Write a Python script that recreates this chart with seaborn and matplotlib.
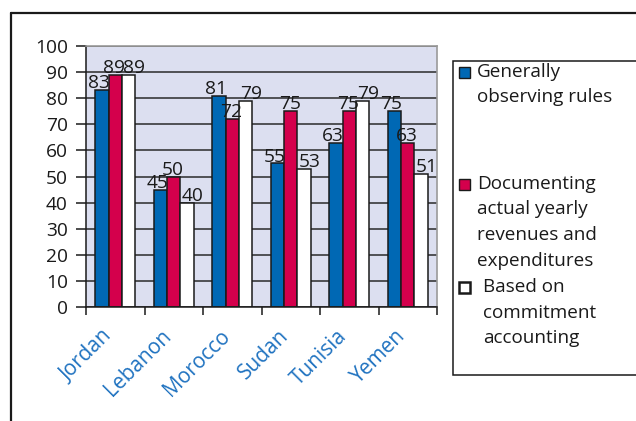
import matplotlib
matplotlib.use("Agg")
import matplotlib.pyplot as plt
from matplotlib.lines import Line2D
from matplotlib.patches import Rectangle
from matplotlib.transforms import ScaledTranslation
import numpy as np
import pandas as pd
import seaborn as sns

countries = ["Jordan", "Lebanon", "Morocco", "Sudan", "Tunisia", "Yemen"]
observing_rules = [83, 45, 81, 55, 63, 75]
documenting_actual = [89, 50, 72, 75, 75, 63]
commitment_accounting = [89, 40, 79, 53, 79, 51]
series_names = [
    "Generally observing rules",
    "Documenting actual yearly revenues and expenditures",
    "Based on commitment accounting",
]
legend_lines = [
    ["Generally", "observing rules"],
    ["Documenting", "actual yearly", "revenues and", "expenditures"],
    ["Based on", "commitment", "accounting"],
]
y_ticks = [0, 10, 20, 30, 40, 50, 60, 70, 80, 90, 100]

colors = ["#0068b4", "#d4004c", "#ffffff"]
label_blue = "#1f72c0"
ink = "#1a1a1a"
font = "Open Sans"

df = pd.DataFrame({
    "country": countries * 3,
    "series": np.repeat(series_names, len(countries)),
    "value": observing_rules + documenting_actual + commitment_accounting,
})

sns.set_theme(style="white")
plt.rcParams["font.family"] = [font, "DejaVu Sans"]

W, H = 636, 421
fig = plt.figure(figsize=(W / 100, H / 100), dpi=100)
ax = fig.add_axes([86 / W, 1 - 307 / H, (437 - 86) / W, (307 - 46) / H])

sns.barplot(
    data=df, x="country", y="value", hue="series", order=countries,
    hue_order=series_names, palette=colors, width=0.68, ax=ax,
    edgecolor=ink, linewidth=1.1, saturation=1, legend=False,
)

ax.set_facecolor("#dcdff0")
ax.set_ylim(0, 100)
ax.set_xlim(-0.5, len(countries) - 0.5)
ax.set_yticks(y_ticks)
ax.set_yticklabels([str(t) for t in y_ticks], fontsize=13.8)
ax.yaxis.grid(True, color="#2a2a2a", linewidth=1.1)
ax.set_axisbelow(True)
ax.set_xlabel("")
ax.set_ylabel("")

# category labels at centres, tick marks on the boundaries
ax.tick_params(axis="x", which="major", length=0, pad=10)
ax.set_xticks(np.arange(-0.5, len(countries)), minor=True)
ax.tick_params(axis="x", which="minor", length=6, width=1.1, color=ink,
               direction="out", bottom=True)
ax.tick_params(axis="y", length=7, width=1.1, color=ink, direction="out",
               left=True, pad=6, labelcolor=ink)
label_shift = ScaledTranslation(-9.5 / 72, -3.5 / 72, fig.dpi_scale_trans)
for lbl in ax.get_xticklabels():
    lbl.set_rotation(45)
    lbl.set_ha("right")
    lbl.set_rotation_mode("anchor")
    lbl.set_fontsize(15)
    lbl.set_color(label_blue)
    lbl.set_transform(lbl.get_transform() + label_shift)

for side in ["left", "bottom"]:
    ax.spines[side].set_color(ink)
    ax.spines[side].set_linewidth(1.1)
for side in ["top", "right"]:
    ax.spines[side].set_color("#9a9a9a")
    ax.spines[side].set_linewidth(1.2)

# value labels, spread slightly sideways within each group
label_dx = [-2.2, -0.7, 4.3]
for cont, dx in zip(ax.containers, label_dx):
    anns = ax.bar_label(cont, fmt="%d", padding=-1.5, fontsize=13.8, color=ink)
    for ann in anns:
        ann.xyann = (dx, -1.5)

# outer frame (top and left edges)
fig.add_artist(Line2D([11 / W, 1], [1 - 13 / H, 1 - 13 / H], color=ink,
                      linewidth=1.6, transform=fig.transFigure))
fig.add_artist(Line2D([11 / W, 11 / W], [0, 1 - 13 / H], color=ink,
                      linewidth=1.6, transform=fig.transFigure))

# legend box
fig.add_artist(Rectangle((453 / W, 1 - 375 / H), (640 - 453) / W, (375 - 61) / H,
                         transform=fig.transFigure, facecolor="white",
                         edgecolor=ink, linewidth=1.1))
first_baselines = [77, 189, 292]
text_x = [477, 477, 483]
for color, lines, y0, tx in zip(colors, legend_lines, first_baselines, text_x):
    fig.add_artist(Rectangle((459 / W, 1 - (y0 + 1) / H), 11 / W, 11 / H,
                             transform=fig.transFigure, facecolor=color,
                             edgecolor=ink,
                             linewidth=1.8 if color == "#ffffff" else 1.0))
    for i, line in enumerate(lines):
        fig.text(tx / W, 1 - (y0 + 25.5 * i) / H, line, fontsize=13.6,
                 color=ink, va="baseline", ha="left")

fig.savefig("out.png", dpi=100, facecolor="white")
